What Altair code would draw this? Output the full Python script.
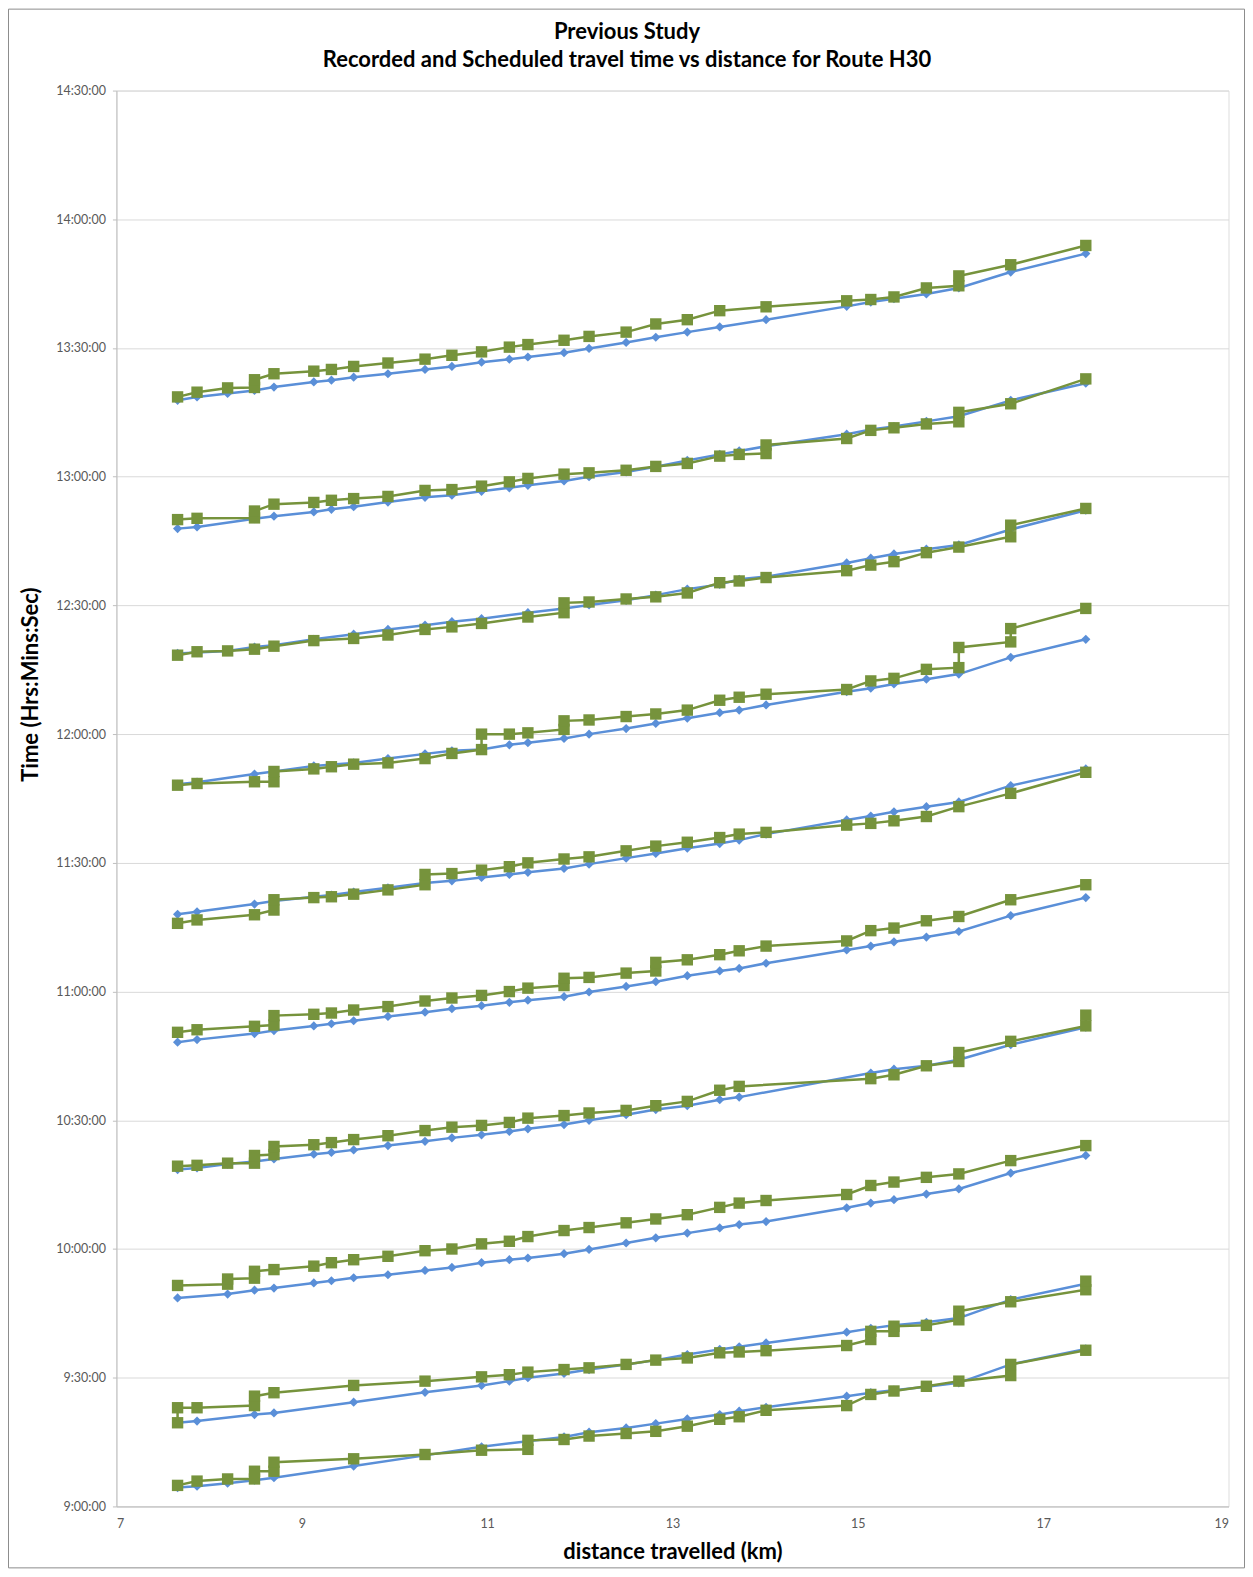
import altair as alt
import pandas as pd

# Times are minutes after 9:00:00; distances in km.
rec_km_1 = [7.66,7.87,8.20,8.49,8.70,9.13,9.32,9.56,9.93,10.33,10.62,10.94,11.24,11.44,11.83,12.10,12.50,12.82,13.16,13.51,14.01,14.88,15.14,15.39,15.74,16.09,16.65,17.46]
rec_t_1 = [257.8,258.6,259.4,260.1,260.9,262.1,262.5,263.2,264.0,265.0,265.7,266.7,267.4,267.9,268.9,269.9,271.3,272.5,273.7,274.9,276.6,279.7,280.7,281.5,282.6,284.0,287.7,292.0]
sch_km_1 = [7.66,7.87,8.20,8.49,8.49,8.70,9.13,9.32,9.56,9.93,10.33,10.62,10.94,11.24,11.44,11.83,12.10,12.50,12.82,13.16,13.51,14.01,14.88,15.14,15.39,15.74,16.09,16.09,16.65,17.46]
sch_t_1 = [258.6,259.7,260.7,260.8,262.6,264.0,264.6,265.0,265.7,266.5,267.4,268.3,269.1,270.2,270.8,271.8,272.7,273.7,275.6,276.6,278.7,279.6,281.0,281.3,281.9,284.0,284.5,286.8,289.4,293.9]

rec_km_2 = [7.66,7.87,8.49,8.70,9.13,9.32,9.56,9.93,10.33,10.62,10.94,11.24,11.44,11.83,12.10,12.50,12.82,13.16,13.51,13.72,14.01,14.88,15.14,15.39,15.74,16.09,16.65,17.46]
rec_t_2 = [227.9,228.3,230.2,230.8,231.8,232.4,233.0,234.1,235.2,235.7,236.6,237.4,238.0,239.0,240.0,241.1,242.3,243.8,245.2,246.0,247.1,249.9,251.0,251.7,252.9,254.1,257.8,261.8]
sch_km_2 = [7.66,7.87,8.49,8.49,8.70,9.13,9.32,9.56,9.93,10.33,10.62,10.94,11.24,11.44,11.83,12.10,12.50,12.82,13.16,13.51,13.72,14.01,14.01,14.88,15.14,15.39,15.74,16.09,16.09,16.65,17.46]
sch_t_2 = [230.0,230.3,230.4,232.0,233.6,234.0,234.5,234.9,235.4,236.8,237.0,237.8,238.8,239.6,240.6,240.9,241.5,242.4,243.1,244.8,245.2,245.4,247.4,248.9,250.8,251.4,252.3,252.8,255.0,257.0,262.8]

rec_km_3 = [7.66,7.87,8.20,8.49,8.70,9.13,9.56,9.93,10.33,10.62,10.94,11.44,11.83,12.10,12.50,12.82,13.16,13.51,13.72,14.01,14.88,15.14,15.39,15.74,16.09,16.65,17.46]
rec_t_3 = [198.8,199.0,199.4,200.3,200.7,202.1,203.3,204.4,205.4,206.2,206.9,208.3,209.3,210.1,211.2,212.4,213.8,214.9,216.1,216.7,219.9,221.0,222.0,223.1,224.1,227.7,232.2]
sch_km_3 = [7.66,7.87,8.20,8.49,8.70,9.13,9.56,9.93,10.33,10.62,10.94,11.44,11.83,11.83,12.10,12.50,12.82,13.16,13.51,13.72,14.01,14.88,15.14,15.39,15.74,16.09,16.65,16.65,17.46]
sch_t_3 = [198.4,199.2,199.4,199.8,200.5,201.8,202.3,203.1,204.4,205.0,205.8,207.3,208.3,210.6,210.8,211.5,212.0,212.9,215.3,215.7,216.5,218.1,219.4,220.2,222.3,223.6,226.0,228.7,232.6]

rec_km_4 = [7.66,7.87,8.49,8.70,9.13,9.56,9.93,10.33,10.62,10.94,11.24,11.44,11.83,12.10,12.50,12.82,13.16,13.51,13.72,14.01,14.88,15.14,15.39,15.74,16.09,16.65,17.46]
rec_t_4 = [168.3,168.8,170.7,171.3,172.6,173.3,174.3,175.4,176.1,176.4,177.5,178.0,179.0,180.0,181.3,182.5,183.7,185.0,185.6,186.8,189.9,190.7,191.7,192.8,194.0,197.9,202.1]
sch_km_4 = [7.66,7.87,8.49,8.70,8.70,9.13,9.32,9.56,9.93,10.33,10.62,10.94,10.94,11.24,11.44,11.83,11.83,12.10,12.50,12.82,13.16,13.51,13.72,14.01,14.88,15.14,15.39,15.74,16.09,16.09,16.65,16.65,17.46]
sch_t_4 = [168.1,168.5,168.9,168.9,171.3,171.9,172.4,173.0,173.3,174.3,175.5,176.4,180.0,180.0,180.3,181.1,183.1,183.3,184.1,184.7,185.6,187.9,188.6,189.3,190.4,192.4,193.0,195.1,195.5,200.2,201.5,204.6,209.3]

rec_km_5 = [7.66,7.87,8.49,8.70,9.13,9.32,9.56,9.93,10.33,10.62,10.94,11.24,11.44,11.83,12.10,12.50,12.82,13.16,13.51,13.72,14.01,14.88,15.14,15.39,15.74,16.09,16.65,17.46]
rec_t_5 = [138.0,138.6,140.4,141.1,142.1,142.5,143.2,144.2,145.3,145.8,146.6,147.3,147.8,148.7,149.7,151.1,152.2,153.4,154.5,155.3,156.7,160.0,160.9,161.9,163.1,164.2,168.0,171.9]
sch_km_5 = [7.66,7.87,8.49,8.70,8.70,9.13,9.32,9.56,9.93,10.33,10.33,10.62,10.94,11.24,11.44,11.83,12.10,12.50,12.82,13.16,13.51,13.72,14.01,14.88,15.14,15.39,15.74,16.09,16.65,17.46]
sch_t_5 = [135.9,136.7,137.9,139.0,141.4,141.9,142.1,142.7,143.7,144.9,147.3,147.5,148.3,149.1,150.0,150.9,151.4,152.8,153.9,154.8,155.9,156.7,157.1,158.8,159.2,159.8,160.8,163.1,166.2,171.1]

rec_km_6 = [7.66,7.87,8.49,8.70,9.13,9.32,9.56,9.93,10.33,10.62,10.94,11.24,11.44,11.83,12.10,12.50,12.82,13.16,13.51,13.72,14.01,14.88,15.14,15.39,15.74,16.09,16.65,17.46]
rec_t_6 = [108.2,108.8,110.2,110.9,112.0,112.5,113.2,114.2,115.2,116.0,116.7,117.5,118.0,118.8,119.9,121.2,122.3,123.7,124.8,125.4,126.6,129.7,130.6,131.6,132.7,134.0,137.7,141.9]
sch_km_6 = [7.66,7.87,8.49,8.70,8.70,9.13,9.32,9.56,9.93,10.33,10.62,10.94,11.24,11.44,11.83,11.83,12.10,12.50,12.82,12.82,13.16,13.51,13.72,14.01,14.88,15.14,15.39,15.74,16.09,16.65,17.46]
sch_t_6 = [110.5,111.1,111.9,112.2,114.4,114.7,115.0,115.7,116.5,117.8,118.5,119.1,120.0,120.8,121.4,123.1,123.3,124.3,124.8,126.8,127.4,128.6,129.5,130.6,131.8,134.2,134.8,136.5,137.5,141.4,144.9]

rec_km_7 = [7.66,7.87,8.20,8.49,8.70,9.13,9.32,9.56,9.93,10.33,10.62,10.94,11.24,11.44,11.83,12.10,12.50,12.82,13.16,13.51,13.72,15.14,15.39,15.74,16.09,16.65,17.46]
rec_t_7 = [78.5,78.9,79.8,80.4,81.0,82.1,82.5,83.1,84.1,85.1,85.9,86.6,87.4,88.0,89.0,90.0,91.3,92.5,93.4,94.8,95.4,101.0,101.9,102.7,104.1,107.6,111.7]
sch_km_7 = [7.66,7.87,8.20,8.49,8.49,8.70,8.70,9.13,9.32,9.56,9.93,10.33,10.62,10.94,11.24,11.44,11.83,12.10,12.50,12.82,13.16,13.51,13.72,15.14,15.39,15.74,16.09,16.09,16.65,17.46,17.46]
sch_t_7 = [79.3,79.5,80.0,80.0,81.8,82.0,83.9,84.3,84.8,85.5,86.4,87.6,88.4,88.8,89.5,90.5,91.1,91.7,92.3,93.4,94.4,97.0,97.9,99.7,100.6,102.7,103.7,105.8,108.4,112.0,114.5]

rec_km_8 = [7.66,8.20,8.49,8.70,9.13,9.32,9.56,9.93,10.33,10.62,10.94,11.24,11.44,11.83,12.10,12.50,12.82,13.16,13.51,13.72,14.01,14.88,15.14,15.39,15.74,16.09,16.65,17.46]
rec_t_8 = [48.6,49.5,50.4,50.9,52.1,52.6,53.3,54.0,55.0,55.7,56.8,57.5,57.9,58.9,59.9,61.4,62.6,63.7,64.9,65.7,66.4,69.6,70.7,71.5,72.8,74.0,77.7,81.8]
sch_km_8 = [7.66,8.20,8.20,8.49,8.49,8.70,9.13,9.32,9.56,9.93,10.33,10.62,10.94,11.24,11.44,11.83,12.10,12.50,12.82,13.16,13.51,13.72,14.01,14.88,15.14,15.39,15.74,16.09,16.65,17.46]
sch_t_8 = [51.5,51.8,53.0,53.2,54.8,55.2,56.0,56.8,57.5,58.3,59.6,60.0,61.2,61.8,62.9,64.3,65.0,66.1,67.0,68.0,69.7,70.7,71.3,72.7,74.8,75.6,76.7,77.5,80.6,84.1]

rec_km_9 = [7.66,7.87,8.49,8.70,9.56,10.33,10.94,11.24,11.44,11.83,12.10,12.50,12.82,13.16,13.51,13.72,14.01,14.88,15.14,15.39,15.74,16.09,16.65,17.46]
rec_t_9 = [19.5,19.9,21.4,21.8,24.3,26.6,28.2,29.2,30.0,31.0,31.9,33.1,34.1,35.4,36.6,37.2,38.1,40.6,41.5,42.2,42.9,43.9,48.2,51.9]
sch_km_9 = [7.66,7.66,7.87,8.49,8.49,8.70,9.56,10.33,10.94,11.24,11.44,11.83,12.10,12.50,12.82,13.16,13.51,13.72,14.01,14.88,15.14,15.14,15.39,15.39,15.74,16.09,16.09,16.65,17.46,17.46]
sch_t_9 = [19.5,23.0,23.0,23.5,25.7,26.5,28.2,29.2,30.2,30.7,31.3,31.9,32.3,33.1,34.1,34.6,35.8,36.0,36.3,37.5,38.9,40.8,40.8,42.0,42.2,43.5,45.5,47.7,50.5,52.5]

rec_km_10 = [7.66,7.87,8.20,8.49,8.70,9.56,10.33,10.94,11.44,11.83,12.10,12.50,12.82,13.16,13.51,13.72,14.01,14.88,15.14,15.39,15.74,16.09,16.65,17.46]
rec_t_10 = [4.4,4.7,5.4,6.1,6.7,9.4,11.9,13.9,15.2,16.2,17.3,18.3,19.3,20.4,21.4,22.2,23.1,25.7,26.5,27.1,27.9,28.8,33.1,36.7]
sch_km_10 = [7.66,7.87,8.20,8.49,8.49,8.70,8.70,9.56,10.33,10.94,11.44,11.44,11.83,12.10,12.50,12.82,13.16,13.51,13.72,14.01,14.88,15.14,15.39,15.74,16.09,16.65,16.65,17.46]
sch_t_10 = [4.9,5.9,6.4,6.4,8.2,8.2,10.3,11.1,12.1,13.1,13.3,15.4,15.6,16.4,17.0,17.5,18.7,20.3,20.9,22.4,23.5,26.1,26.9,28.0,29.2,30.5,33.1,36.4]

x_ticks = [7, 9, 11, 13, 15, 17, 19]
y_ticks = [0, 30, 60, 90, 120, 150, 180, 210, 240, 270, 300, 330]
title_lines = ["Previous Study", "Recorded and Scheduled travel time vs distance for Route H30"]

BLUE = "#5A8FD8"
GREEN = "#76933C"

trips = [
    (1, rec_km_1, rec_t_1, sch_km_1, sch_t_1),
    (2, rec_km_2, rec_t_2, sch_km_2, sch_t_2),
    (3, rec_km_3, rec_t_3, sch_km_3, sch_t_3),
    (4, rec_km_4, rec_t_4, sch_km_4, sch_t_4),
    (5, rec_km_5, rec_t_5, sch_km_5, sch_t_5),
    (6, rec_km_6, rec_t_6, sch_km_6, sch_t_6),
    (7, rec_km_7, rec_t_7, sch_km_7, sch_t_7),
    (8, rec_km_8, rec_t_8, sch_km_8, sch_t_8),
    (9, rec_km_9, rec_t_9, sch_km_9, sch_t_9),
    (10, rec_km_10, rec_t_10, sch_km_10, sch_t_10),
]

rec_rows, sch_rows = [], []
for trip, rk, rt, sk, st in trips:
    for i, (k, t) in enumerate(zip(rk, rt)):
        rec_rows.append({"trip": trip, "km": k, "t": t, "seq": i})
    for i, (k, t) in enumerate(zip(sk, st)):
        sch_rows.append({"trip": trip, "km": k, "t": t, "seq": i})
rec_df = pd.DataFrame(rec_rows)
sch_df = pd.DataFrame(sch_rows)

FONT = "Lato"
TITLE_SIZE = 22
LABEL_SIZE = 12.5

x_enc = alt.X(
    "km:Q",
    scale=alt.Scale(domain=[7, 19], nice=False, zero=False),
    axis=alt.Axis(
        values=x_ticks, format="d", title="distance  travelled (km)", grid=False, ticks=False,
        domainColor="#BFBFBF", labelFontSize=LABEL_SIZE, labelColor="#595959", labelFont=FONT,
        labelPadding=11, titleFont=FONT, titleFontSize=TITLE_SIZE, titleFontWeight="bold",
        titleColor="#000000", titleBaseline="middle", titleY=45,
    ),
)
y_enc = alt.Y(
    "t:Q",
    scale=alt.Scale(domain=[0, 330], nice=False, zero=False),
    axis=alt.Axis(
        values=y_ticks, title="Time (Hrs:Mins:Sec)", grid=True, gridColor="#D9D9D9",
        domainColor="#BFBFBF", tickColor="#BFBFBF", tickSize=4,
        labelExpr="(floor(datum.value/60)+9) + ':' + (datum.value%60 < 10 ? '0' : '') + (datum.value%60) + ':00'",
        labelFontSize=LABEL_SIZE, labelColor="#595959", labelFont=FONT, labelPadding=7,
        titleFont=FONT, titleFontSize=TITLE_SIZE, titleFontWeight="bold", titleColor="#000000",
        titleAngle=270, titleAlign="center", titleBaseline="middle", titleX=-86, titleY=594,
    ),
)

rec_line = alt.Chart(rec_df).mark_line(color=BLUE, strokeWidth=2.5).encode(
    x=x_enc, y=y_enc, detail="trip:N", order="seq:Q")
rec_pts = alt.Chart(rec_df).mark_point(shape="diamond", filled=True, size=85, color=BLUE, opacity=1).encode(
    x="km:Q", y="t:Q")
sch_line = alt.Chart(sch_df).mark_line(color=GREEN, strokeWidth=2.5).encode(
    x="km:Q", y="t:Q", detail="trip:N", order="seq:Q")
sch_pts = alt.Chart(sch_df).mark_point(shape="square", filled=True, size=130, color=GREEN, opacity=1).encode(
    x="km:Q", y="t:Q")

one = pd.DataFrame({"a": [0]})
frame = alt.Chart(one).mark_rect(
    fill="transparent", stroke="#8C8C8C", strokeWidth=1, clip=False
).encode(x=alt.value(-108), x2=alt.value(1129), y=alt.value(-81.5), y2=alt.value(1478.5))

title1 = alt.Chart(one).mark_text(
    text=title_lines[0], font=FONT, fontSize=TITLE_SIZE, fontWeight="bold", color="#000000",
    align="center", baseline="alphabetic", clip=False
).encode(x=alt.value(511), y=alt.value(-52))
title2 = alt.Chart(one).mark_text(
    text=title_lines[1], font=FONT, fontSize=TITLE_SIZE, fontWeight="bold", color="#000000",
    align="center", baseline="alphabetic", clip=False
).encode(x=alt.value(511), y=alt.value(-24))

chart = alt.layer(rec_line, rec_pts, sch_line, sch_pts, frame, title1, title2).properties(
    width=1113,
    height=1417,
    autosize=alt.AutoSizeParams(type="none"),
    padding={"left": 108.5, "top": 82, "right": 16.5, "bottom": 62},
).configure_view(stroke="transparent").configure(background="white")

chart.save("out.html", embed_options={"renderer": "svg", "actions": False})
